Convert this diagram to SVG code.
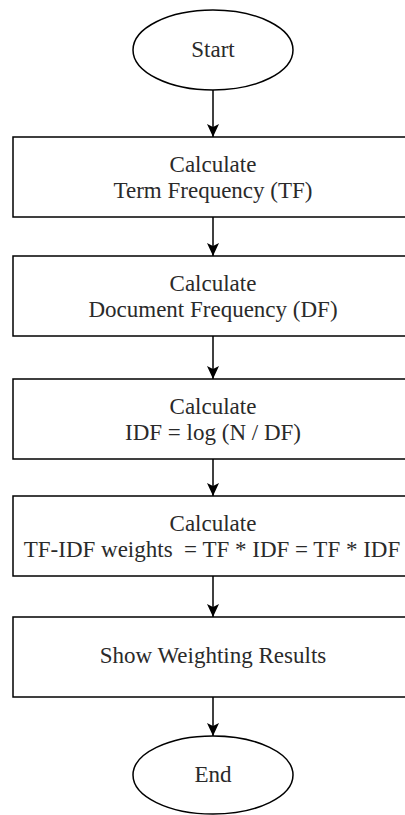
<svg xmlns="http://www.w3.org/2000/svg" width="405" height="815" viewBox="0 0 405 815">
  <style>
    .shape { fill: #ffffff; stroke: #000000; stroke-width: 1.5; }
    .lbl { font-family: "Liberation Serif", "Times New Roman", serif; font-size: 23px; fill: #2a2a2a; text-anchor: middle; }
    .edge { stroke: #000000; stroke-width: 1.5; fill: none; }
  </style>
  <defs>
    <marker id="arrow" viewBox="0 0 14 14" refX="13" refY="7" markerWidth="14" markerHeight="14" markerUnits="userSpaceOnUse" orient="auto">
      <path d="M0,1 L13,7 L0,13 L3,7 Z" fill="#000000"/>
    </marker>
  </defs>
  <rect width="405" height="815" fill="#ffffff"/>

  <g id="connectors">
    <line class="edge" x1="213" y1="90" x2="213" y2="137" marker-end="url(#arrow)"/>
    <line class="edge" x1="213" y1="217" x2="213" y2="256" marker-end="url(#arrow)"/>
    <line class="edge" x1="213" y1="336" x2="213" y2="379" marker-end="url(#arrow)"/>
    <line class="edge" x1="213" y1="459" x2="213" y2="496" marker-end="url(#arrow)"/>
    <line class="edge" x1="213" y1="576" x2="213" y2="617" marker-end="url(#arrow)"/>
    <line class="edge" x1="213" y1="697" x2="213" y2="736" marker-end="url(#arrow)"/>
  </g>

  <g id="start">
    <ellipse class="shape" cx="213" cy="50" rx="80" ry="40"/>
    <text class="lbl" x="213" y="57">Start</text>
  </g>

  <g id="tf">
    <rect class="shape" x="13" y="137" width="400" height="80"/>
    <text class="lbl" x="213" y="172">Calculate</text>
    <text class="lbl" x="213" y="198">Term Frequency (TF)</text>
  </g>

  <g id="df">
    <rect class="shape" x="13" y="256" width="400" height="80"/>
    <text class="lbl" x="213" y="291">Calculate</text>
    <text class="lbl" x="213" y="317">Document Frequency (DF)</text>
  </g>

  <g id="idf">
    <rect class="shape" x="13" y="379" width="400" height="80"/>
    <text class="lbl" x="213" y="414">Calculate</text>
    <text class="lbl" x="213" y="440">IDF = log (N / DF)</text>
  </g>

  <g id="tfidf">
    <rect class="shape" x="13" y="496" width="400" height="80"/>
    <text class="lbl" x="213" y="531">Calculate</text>
    <text class="lbl" x="212" y="557" xml:space="preserve">TF-IDF weights  = TF * IDF = TF * IDF</text>
  </g>

  <g id="show">
    <rect class="shape" x="13" y="617" width="400" height="80"/>
    <text class="lbl" x="213" y="663">Show Weighting Results</text>
  </g>

  <g id="end">
    <ellipse class="shape" cx="213" cy="775" rx="80" ry="39"/>
    <text class="lbl" x="213" y="782">End</text>
  </g>
</svg>
